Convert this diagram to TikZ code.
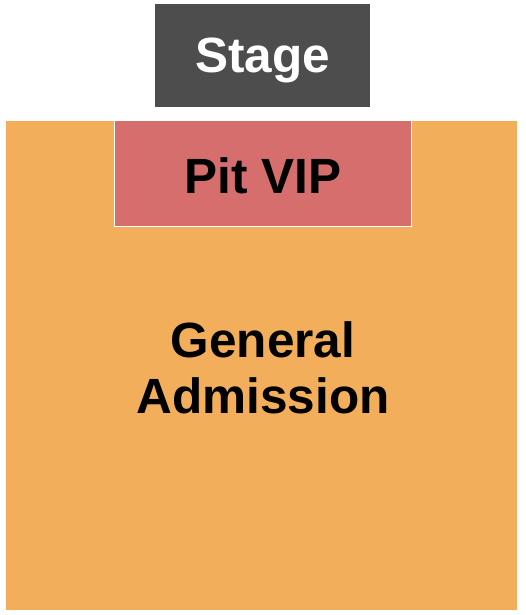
\documentclass[tikz,border=0pt]{standalone}
\usepackage{fontspec}
\setmainfont{Liberation Sans}
\definecolor{stagec}{HTML}{4D4D4D}
\definecolor{gac}{HTML}{F2AE5A}
\definecolor{pitc}{HTML}{D66E6E}
\begin{document}
\begin{tikzpicture}[x=1pt,y=-1pt,
  lbl/.style={font=\bfseries\fontsize{49.5}{56}\selectfont, align=center, inner sep=0pt}]
\useasboundingbox (0,0) rectangle (525,615);
\fill[white] (0,0) rectangle (525,615);
\fill[stagec] (155,4) rectangle (370,107);
\fill[gac] (6,121) rectangle (517,610);
\filldraw[pitc, draw=white, line width=1pt] (114.5,120.5) rectangle (411.5,226);
\node[lbl, text=white] (stage) at (262.5,60) {Stage};
\node[lbl] (pit) at (263,176) {Pit VIP};
\node[lbl] (ga) at (263,368) {General\\Admission};
\end{tikzpicture}
\end{document}
